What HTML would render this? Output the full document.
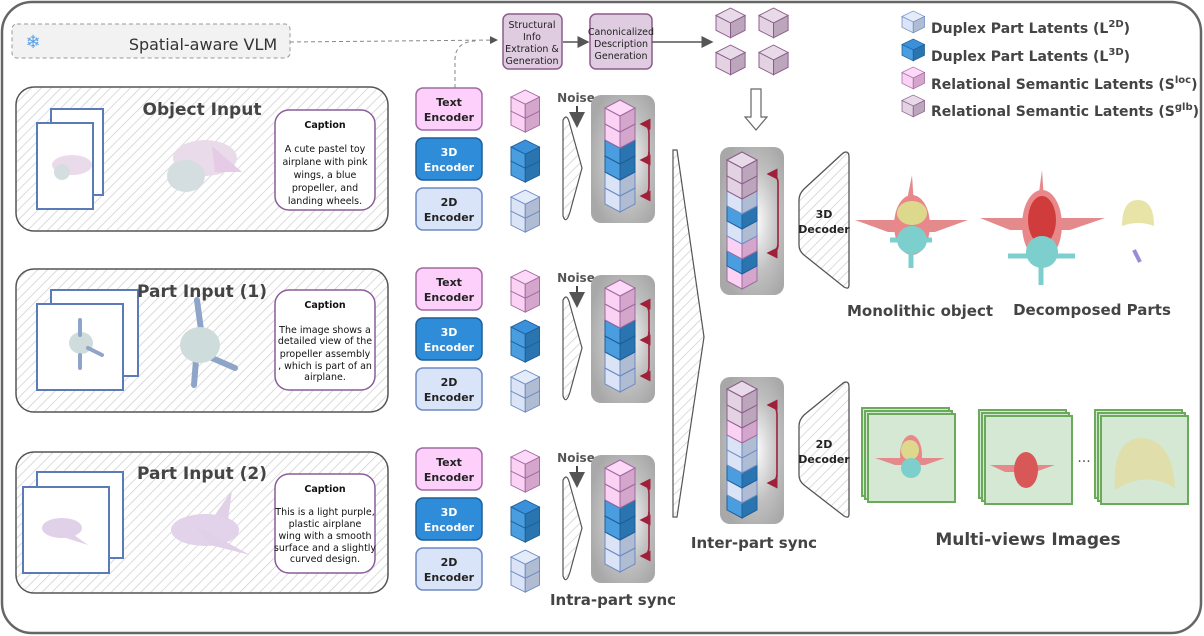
<!DOCTYPE html>
<html><head><meta charset="utf-8"><style>
html,body{margin:0;padding:0;background:#fff;}
svg{display:block;font-family:"DejaVu Sans","Liberation Sans",sans-serif;}
.t{fill:#444;font-weight:bold;}
</style></head><body>
<svg width="1204" height="636" viewBox="0 0 1204 636" xmlns="http://www.w3.org/2000/svg">
<defs>
<pattern id="h" width="7" height="7" patternUnits="userSpaceOnUse" patternTransform="rotate(45)">
<rect width="7" height="7" fill="#fff"/><line x1="0" y1="0" x2="0" y2="7" stroke="#cfcfcf" stroke-width="1.5"/></pattern>
<radialGradient id="gb" cx="0.55" cy="0.5" r="0.6"><stop offset="0" stop-color="#fff"/><stop offset="0.6" stop-color="#c0c0c0"/><stop offset="1" stop-color="#a8a8a8"/></radialGradient>
<g id="pk" stroke="#a06aa0" stroke-width="1"><polygon points="0,8 15,16 15,32 0,24" fill="#fbd2f4"/><polygon points="15,16 30,8 30,24 15,32" fill="#d4a6cc"/><polygon points="0,8 15,0 30,8 15,16" fill="#fdd8f8"/></g>
<g id="bl" stroke="#1e5f9a" stroke-width="1"><polygon points="0,8 15,16 15,32 0,24" fill="#4a9ee0"/><polygon points="15,16 30,8 30,24 15,32" fill="#2a74b0"/><polygon points="0,8 15,0 30,8 15,16" fill="#3a90da"/></g>
<g id="lb" stroke="#6d8ac4" stroke-width="1"><polygon points="0,8 15,16 15,32 0,24" fill="#dae4f6"/><polygon points="15,16 30,8 30,24 15,32" fill="#b0bcd2"/><polygon points="0,8 15,0 30,8 15,16" fill="#e4ecfa"/></g>
<g id="gl" stroke="#8a5d8a" stroke-width="1"><polygon points="0,8 15,16 15,32 0,24" fill="#e2d2e2"/><polygon points="15,16 30,8 30,24 15,32" fill="#bba6bb"/><polygon points="0,8 15,0 30,8 15,16" fill="#e8dae8"/></g>
<marker id="ar" markerWidth="8" markerHeight="8" refX="7" refY="4" orient="auto"><path d="M0,0 L8,4 L0,8 z" fill="#555"/></marker>
<marker id="rr" markerWidth="7" markerHeight="7" refX="6" refY="3.5" orient="auto"><path d="M0,0 L7,3.5 L0,7 z" fill="#a0203a"/></marker>
</defs>

<rect x="2" y="2" width="1199" height="631" rx="30" fill="#fff" stroke="#666" stroke-width="2.5"/>

<rect x="12" y="24" width="278" height="34" rx="5" fill="#f2f2f2" stroke="#999" stroke-dasharray="4,3"/>
<text x="33" y="48" font-size="18" fill="#5aa0e8" text-anchor="middle">❄</text>
<text x="203" y="50" font-size="16" fill="#333" text-anchor="middle">Spatial-aware VLM</text>
<path d="M290,42 L497,40" stroke="#888" stroke-dasharray="4,3" fill="none" marker-end="url(#ar)"/>
<path d="M455,88 L455,60 Q455,42 475,41" stroke="#888" stroke-dasharray="4,3" fill="none"/>

<rect x="503" y="14" width="59" height="55" rx="6" fill="#e0cce0" stroke="#8a5d8a" stroke-width="1.5"/>
<text font-size="9.5" fill="#222" text-anchor="middle"><tspan x="532" y="28">Structural</tspan><tspan x="532" y="40">Info</tspan><tspan x="532" y="52">Extration &amp;</tspan><tspan x="532" y="64">Generation</tspan></text>
<path d="M563,42 L588,42" stroke="#555" stroke-width="1.5" marker-end="url(#ar)"/>
<rect x="590" y="14" width="62" height="55" rx="6" fill="#e0cce0" stroke="#8a5d8a" stroke-width="1.5"/>
<text font-size="9.5" fill="#222" text-anchor="middle"><tspan x="621" y="35">Canonicalized</tspan><tspan x="621" y="47">Description</tspan><tspan x="621" y="59">Generation</tspan></text>
<path d="M652,42 L712,42" stroke="#555" stroke-width="1.5" marker-end="url(#ar)"/>

<use href="#gl" transform="translate(716,8) scale(0.97,0.93)"/>
<use href="#gl" transform="translate(759,8) scale(0.97,0.93)"/>
<use href="#gl" transform="translate(716,45) scale(0.97,0.93)"/>
<use href="#gl" transform="translate(759,45) scale(0.97,0.93)"/>
<path d="M751,89 L761,89 L761,117 L767,117 L756,130 L745,117 L751,117 Z" fill="#fff" stroke="#666" stroke-width="1.2"/>

<use href="#lb" transform="translate(902,11) scale(0.75,0.68)"/>
<use href="#bl" transform="translate(902,39) scale(0.75,0.68)"/>
<use href="#pk" transform="translate(902,67) scale(0.75,0.68)"/>
<use href="#gl" transform="translate(902,95) scale(0.75,0.68)"/>
<g class="t" font-size="14">
<text x="931" y="33">Duplex Part Latents (L<tspan dy="-6" font-size="10">2D</tspan><tspan dy="6">)</tspan></text>
<text x="931" y="61">Duplex Part Latents (L<tspan dy="-6" font-size="10">3D</tspan><tspan dy="6">)</tspan></text>
<text x="931" y="89">Relational Semantic Latents (S<tspan dy="-6" font-size="10">loc</tspan><tspan dy="6">)</tspan></text>
<text x="931" y="116">Relational Semantic Latents (S<tspan dy="-6" font-size="10">glb</tspan><tspan dy="6">)</tspan></text>
</g>

<g>
<rect x="16" y="87" width="372" height="144" rx="18" fill="url(#h)" stroke="#555" stroke-width="1.5"/>
<rect x="51" y="109" width="52" height="86" fill="#fff" stroke="#5a7ab8" stroke-width="2"/>
<rect x="37" y="123" width="56" height="86" fill="#fff" stroke="#5a7ab8" stroke-width="2"/>
<text x="202" y="115" font-size="17" class="t" text-anchor="middle">Object Input</text>
<ellipse cx="72" cy="165" rx="20" ry="10" fill="#eadbea"/><ellipse cx="62" cy="172" rx="8" ry="8" fill="#d4dde0"/>
<ellipse cx="205" cy="158" rx="32" ry="18" fill="#eadbea"/><ellipse cx="186" cy="176" rx="19" ry="16" fill="#d4dde0"/><path d="M212,146 L242,172 L215,172Z" fill="#e6cbe6"/>
<rect x="275" y="110" width="100" height="100" rx="14" fill="#fff" stroke="#8a5d9a" stroke-width="1.5"/>
<text font-size="9.5" fill="#111" text-anchor="middle"><tspan x="325" y="128" font-weight="bold">Caption</tspan><tspan x="325" y="152">A cute pastel toy</tspan><tspan x="325" y="165">airplane with pink</tspan><tspan x="325" y="178">wings, a blue</tspan><tspan x="325" y="191">propeller, and</tspan><tspan x="325" y="204">landing wheels.</tspan></text>
</g>
<g>
<rect x="16" y="269" width="372" height="143" rx="18" fill="url(#h)" stroke="#555" stroke-width="1.5"/>
<rect x="51" y="290" width="87" height="86" fill="#fff" stroke="#5a7ab8" stroke-width="2"/>
<rect x="37" y="304" width="86" height="86" fill="#fff" stroke="#5a7ab8" stroke-width="2"/>
<text x="202" y="297" font-size="17" class="t" text-anchor="middle">Part Input (1)</text>
<ellipse cx="81" cy="343" rx="12" ry="11" fill="#d0dcdc"/><path d="M80,320 L80,335 M88,348 L102,355 M80,355 L80,368" stroke="#8ea4c8" stroke-width="4" stroke-linecap="round"/>
<path d="M197,300 L201,330 M205,355 L235,368 M196,360 L194,385" stroke="#8ea4c8" stroke-width="6" stroke-linecap="round"/>
<ellipse cx="200" cy="345" rx="20" ry="18" fill="#cfdcdc"/>
<rect x="275" y="290" width="100" height="100" rx="14" fill="#fff" stroke="#8a5d9a" stroke-width="1.5"/>
<text font-size="9.5" fill="#111" text-anchor="middle"><tspan x="325" y="308" font-weight="bold">Caption</tspan><tspan x="325" y="333">The image shows a</tspan><tspan x="325" y="344">detailed view of the</tspan><tspan x="325" y="357">propeller assembly</tspan><tspan x="325" y="369">, which is part of an</tspan><tspan x="325" y="380">airplane.</tspan></text>
</g>
<g>
<rect x="16" y="452" width="372" height="141" rx="18" fill="url(#h)" stroke="#555" stroke-width="1.5"/>
<rect x="37" y="472" width="86" height="86" fill="#fff" stroke="#5a7ab8" stroke-width="2"/>
<rect x="23" y="487" width="86" height="86" fill="#fff" stroke="#5a7ab8" stroke-width="2"/>
<text x="202" y="479" font-size="17" class="t" text-anchor="middle">Part Input (2)</text>
<ellipse cx="62" cy="528" rx="20" ry="10" fill="#e0d0e8"/><path d="M60,525 L88,545 L66,538Z" fill="#e0d0e8"/>
<ellipse cx="205" cy="530" rx="34" ry="16" fill="#e2d2ea"/><path d="M195,525 L250,555 L210,545Z M215,515 L232,490 L228,520Z" fill="#e0d0e8"/>
<rect x="275" y="474" width="100" height="99" rx="14" fill="#fff" stroke="#8a5d9a" stroke-width="1.5"/>
<text font-size="9.5" fill="#111" text-anchor="middle"><tspan x="325" y="492" font-weight="bold">Caption</tspan><tspan x="325" y="515">This is a light purple,</tspan><tspan x="325" y="527">plastic airplane</tspan><tspan x="325" y="539">wing with a smooth</tspan><tspan x="325" y="551">surface and a slightly</tspan><tspan x="325" y="562">curved design.</tspan></text>
</g>

<g id="enc">
<rect x="416" y="88" width="66" height="42" rx="7" fill="#fdd0fb" stroke="#a06aa0" stroke-width="1.5"/>
<text x="449" y="106" font-size="11" font-weight="bold" fill="#222" text-anchor="middle">Text</text><text x="449" y="121" font-size="11" font-weight="bold" fill="#222" text-anchor="middle">Encoder</text>
<rect x="416" y="138" width="66" height="42" rx="7" fill="#2f8cd8" stroke="#1e5f9a" stroke-width="1.5"/>
<text x="449" y="156" font-size="11" font-weight="bold" fill="#fff" text-anchor="middle">3D</text><text x="449" y="171" font-size="11" font-weight="bold" fill="#fff" text-anchor="middle">Encoder</text>
<rect x="416" y="188" width="66" height="42" rx="7" fill="#dae4f8" stroke="#6d8ac4" stroke-width="1.5"/>
<text x="449" y="206" font-size="11" font-weight="bold" fill="#222" text-anchor="middle">2D</text><text x="449" y="221" font-size="11" font-weight="bold" fill="#222" text-anchor="middle">Encoder</text>
<use href="#pk" transform="translate(511,104) scale(0.95,0.88)"/><use href="#pk" transform="translate(511,90) scale(0.95,0.88)"/>
<use href="#bl" transform="translate(511,154) scale(0.95,0.88)"/><use href="#bl" transform="translate(511,140) scale(0.95,0.88)"/>
<use href="#lb" transform="translate(511,204) scale(0.95,0.88)"/><use href="#lb" transform="translate(511,190) scale(0.95,0.88)"/>
<text x="576" y="102" font-size="12" font-weight="bold" fill="#555" text-anchor="middle">Noise</text>
<path d="M577,106 L577,126" stroke="#444" stroke-width="2" marker-end="url(#ar)"/>
<path d="M563,120 Q567,112 570,125 L582,168 L570,212 Q566,225 563,216 Z" fill="url(#h)" stroke="#555" stroke-width="1.2"/>
<rect x="591" y="95" width="64" height="128" rx="10" fill="url(#gb)"/>
<use href="#lb" transform="translate(605,180)"/><use href="#lb" transform="translate(605,164)"/>
<use href="#bl" transform="translate(605,148)"/><use href="#bl" transform="translate(605,132)"/>
<use href="#pk" transform="translate(605,116)"/><use href="#pk" transform="translate(605,100)"/>
<path d="M641,124 Q649,124 649,134 L649,186 Q649,196 641,196" stroke="#a0203a" stroke-width="1.6" fill="none" marker-end="url(#rr)"/>
<path d="M649,130 Q650,124 641,124" stroke="#a0203a" stroke-width="1.6" fill="none" marker-end="url(#rr)"/>
<path d="M649,152 Q649,160 641,160" stroke="#a0203a" stroke-width="1.6" fill="none" marker-end="url(#rr)"/>
</g>
<use href="#enc" transform="translate(0,180)"/>
<use href="#enc" transform="translate(0,360)"/>
<text x="613" y="605" font-size="15" class="t" text-anchor="middle">Intra-part sync</text>

<path d="M673,150 L677,150 L704,337 L677,517 L673,517 Z" fill="url(#h)" stroke="#555" stroke-width="1.2"/>

<rect x="720" y="147" width="64" height="148" rx="10" fill="url(#gb)"/>
<use href="#pk" transform="translate(727,257)"/><use href="#bl" transform="translate(727,242)"/>
<use href="#pk" transform="translate(727,227)"/><use href="#lb" transform="translate(727,212)"/>
<use href="#bl" transform="translate(727,197)"/><use href="#lb" transform="translate(727,182)"/>
<use href="#gl" transform="translate(727,167)"/><use href="#gl" transform="translate(727,152)"/>
<path d="M768,253 Q778,253 778,243 L778,183 Q778,174 768,174" stroke="#a0203a" stroke-width="1.6" fill="none" marker-end="url(#rr)"/>
<path d="M778,245 Q778,253 768,253" stroke="#a0203a" stroke-width="1.6" fill="none" marker-end="url(#rr)"/>
<rect x="720" y="377" width="64" height="147" rx="10" fill="url(#gb)"/>
<use href="#bl" transform="translate(727,486)"/><use href="#lb" transform="translate(727,471)"/>
<use href="#bl" transform="translate(727,456)"/><use href="#lb" transform="translate(727,441)"/>
<use href="#lb" transform="translate(727,426)"/><use href="#pk" transform="translate(727,411)"/>
<use href="#gl" transform="translate(727,396)"/><use href="#gl" transform="translate(727,381)"/>
<path d="M768,483 Q777,483 777,473 L777,415 Q777,405 768,405" stroke="#a0203a" stroke-width="1.6" fill="none" marker-end="url(#rr)"/>
<path d="M777,475 Q777,483 768,483" stroke="#a0203a" stroke-width="1.6" fill="none" marker-end="url(#rr)"/>
<text x="754" y="548" font-size="15" class="t" text-anchor="middle">Inter-part sync</text>

<path d="M846,152 Q849,152 849,157 L849,285 Q849,290 844,287 L804,255 Q799,251 799,245 L799,200 Q799,194 804,189 L842,154 Q844,152 846,152 Z" fill="url(#h)" stroke="#555" stroke-width="1.3"/>
<text x="824" y="218" font-size="11" font-weight="bold" fill="#222" text-anchor="middle">3D</text><text x="824" y="233" font-size="11" font-weight="bold" fill="#222" text-anchor="middle">Decoder</text>
<path d="M846,382 Q849,382 849,387 L849,514 Q849,519 844,516 L804,485 Q799,481 799,475 L799,426 Q799,420 804,415 L842,384 Q844,382 846,382 Z" fill="url(#h)" stroke="#555" stroke-width="1.3"/>
<text x="824" y="448" font-size="11" font-weight="bold" fill="#222" text-anchor="middle">2D</text><text x="824" y="463" font-size="11" font-weight="bold" fill="#222" text-anchor="middle">Decoder</text>

<g>
<path d="M912,175 L914,205 L906,205Z M855,220 L968,220 L935,232 L888,232Z" fill="#e58a8c"/>
<ellipse cx="912" cy="225" rx="18" ry="30" fill="#e8888a"/><ellipse cx="912" cy="213" rx="15" ry="12" fill="#dcd88c"/>
<ellipse cx="912" cy="240" rx="15" ry="14" fill="#7ccfcc"/><path d="M911,245 L911,268 M890,240 L932,240" stroke="#7ccfcc" stroke-width="5"/>
</g>
<g>
<path d="M1042,170 L1044,200 L1038,200Z M980,218 L1105,218 L1070,230 L1010,230Z" fill="#e58a8c"/>
<ellipse cx="1042" cy="225" rx="20" ry="35" fill="#e8888a"/><ellipse cx="1042" cy="220" rx="14" ry="24" fill="#d03c3c"/>
<ellipse cx="1042" cy="252" rx="16" ry="16" fill="#7ccfcc"/><path d="M1041,258 L1041,285 M1008,256 L1075,256" stroke="#7ccfcc" stroke-width="5"/>
</g>
<path d="M1122,226 Q1122,200 1138,200 Q1154,200 1154,226 Q1138,220 1122,226Z" fill="#e8e4a8"/>
<path d="M1134,250 L1140,262" stroke="#9a8ad8" stroke-width="4"/>
<text x="920" y="316" font-size="15" class="t" text-anchor="middle">Monolithic object</text>
<text x="1092" y="315" font-size="15" class="t" text-anchor="middle">Decomposed Parts</text>

<g fill="#d4e8d4" stroke="#6aaa5a" stroke-width="2">
<rect x="862" y="408" width="87" height="88"/><rect x="865" y="411" width="87" height="88"/><rect x="868" y="414" width="87" height="88"/>
<rect x="979" y="410" width="87" height="88"/><rect x="982" y="413" width="87" height="88"/><rect x="985" y="416" width="87" height="88"/>
<rect x="1095" y="410" width="87" height="88"/><rect x="1098" y="413" width="87" height="88"/><rect x="1101" y="416" width="87" height="88"/>
</g>
<path d="M875,458 L945,458 L925,465 L895,465Z" fill="#e58a8c"/><ellipse cx="911" cy="455" rx="11" ry="20" fill="#e8888a"/><ellipse cx="910" cy="450" rx="9" ry="10" fill="#dcd88c"/><ellipse cx="911" cy="468" rx="10" ry="10" fill="#7ccfcc"/>
<path d="M990,465 L1055,465 L1035,472 L1005,472Z" fill="#e58a8c"/><ellipse cx="1026" cy="470" rx="12" ry="18" fill="#d85858"/>
<path d="M1115,490 Q1112,440 1140,438 Q1172,438 1175,488 Q1145,470 1115,490Z" fill="#e0deaa"/>
<text x="1084" y="466" font-size="14" fill="#555" text-anchor="middle">···</text>
<text x="1028" y="545" font-size="17" class="t" text-anchor="middle">Multi-views Images</text>
</svg>
</body></html>
